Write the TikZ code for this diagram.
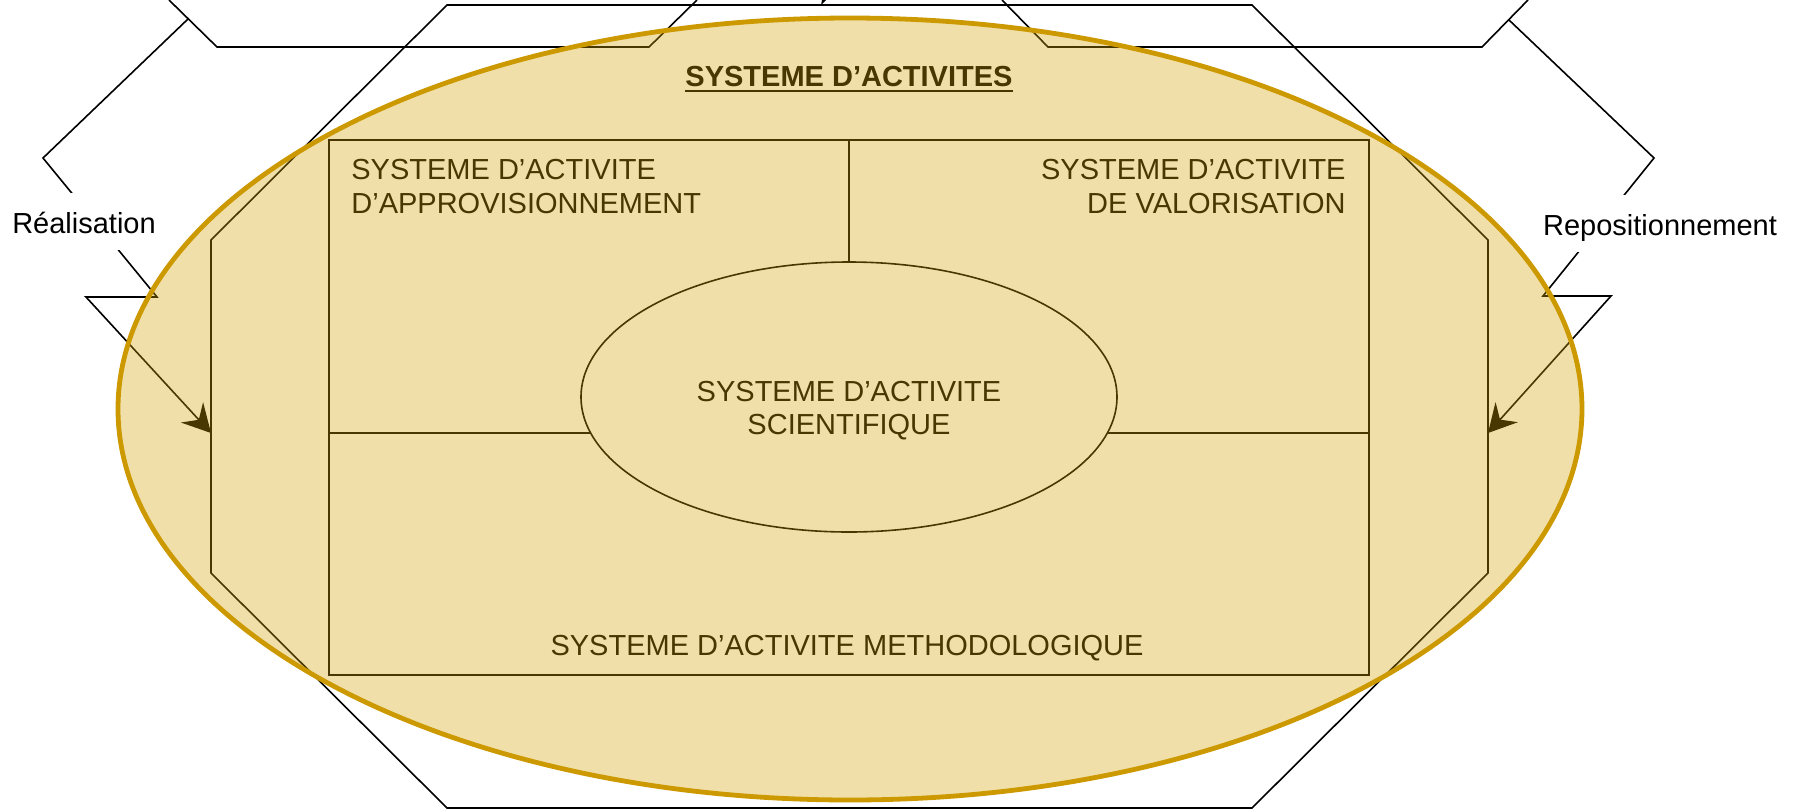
\documentclass[tikz,border=0pt]{standalone}
\usepackage{fontspec}
\setmainfont{Liberation Sans}
\usetikzlibrary{shapes.geometric,arrows.meta}
\definecolor{goldline}{RGB}{204,153,0}
\definecolor{goldfill}{RGB}{212,162,0}
\begin{document}
\begin{tikzpicture}[x=0.5pt,y=-0.5pt,
  thinline/.style={draw=black,line width=0.8pt},
  boxline/.style={draw=black,line width=1pt},
  txt/.style={font=\fontsize{14.5}{17}\selectfont,inner sep=0pt},
  lbl/.style={txt,fill=white,text height=20pt,text depth=8.5pt,inner xsep=2pt},
  conn/.style={thinline,line join=miter,-{Stealth[length=14pt,width=15pt,inset=5pt]}}
]
\useasboundingbox (0,0) rectangle (1796,810);
\fill[white] (0,0) rectangle (1796,810);
\begin{scope}
\clip (0,0) rectangle (1796,810);
% shapes cut by the top edge
\draw[thinline] (169,0) -- (217,47) -- (649,47) -- (697,0);
\draw[thinline] (1002,0) -- (1048,47) -- (1482,47) -- (1528,0);
% octagon
\draw[thinline] (447,5) -- (1252,5) -- (1488,240) -- (1488,573) -- (1252,808) -- (447,808) -- (211,573) -- (211,240) -- cycle;
\fill (821,5) -- (822,0) -- (826,0) -- cycle;
\end{scope}
% connectors
\coordinate (rs) at (188,19);
\coordinate (r1) at (43,158);
\coordinate (r2) at (157,297);
\coordinate (r3) at (86,297);
\coordinate (octL) at (211,433);
\coordinate (ps) at (1509,20);
\coordinate (p1) at (1654,158);
\coordinate (p2) at (1543,296);
\coordinate (p3) at (1611,296);
\coordinate (octR) at (1488,433);
\draw[conn] (rs) -- (r1) -- (r2) -- (r3) -- (octL);
\draw[conn] (ps) -- (p1) -- (p2) -- (p3) -- (octR);
\node[lbl,anchor=base] (real) at (84,233) {Réalisation};
\node[lbl,anchor=base] (repo) at (1660,235) {Repositionnement};
% inner rectangle
\node[boxline,draw,minimum width=520pt,minimum height=267.5pt,inner sep=0pt] (rect) at (849,407.5) {};
\coordinate (divL) at (329,433);
\coordinate (divR) at (1369,433);
\draw[boxline] (divL) -- (divR);
\node[ellipse,thinline,draw,fill=white,minimum width=268pt,minimum height=135pt,inner sep=0pt] (sci) at (849,397) {};
\draw[boxline] (rect.north) -- (sci.north);
% texts
\node[txt,anchor=base west] (apA) at (351,179) {SYSTEME D’ACTIVITE};
\node[txt,anchor=base west] (apB) at (351,213) {D’APPROVISIONNEMENT};
\node[txt,anchor=base east] (vaA) at (1346,179) {SYSTEME D’ACTIVITE};
\node[txt,anchor=base east] (vaB) at (1346,213) {DE VALORISATION};
\node[txt,anchor=base] (scA) at (849,401) {SYSTEME D’ACTIVITE};
\node[txt,anchor=base] (scB) at (849,434) {SCIENTIFIQUE};
\node[txt,anchor=base] (meth) at (847,655) {SYSTEME D’ACTIVITE METHODOLOGIQUE};
\node[txt,font=\bfseries\fontsize{14.5}{17}\selectfont,anchor=base] (title) at (849,86) {SYSTEME D’ACTIVITES};
\draw[line width=1pt] ([yshift=-2.5pt]title.base west) -- ([yshift=-2.5pt]title.base east);
% big translucent ellipse
\draw[goldline,line width=2.4pt,fill=goldfill,fill opacity=0.34] (850,409) ellipse [x radius=366pt, y radius=195.5pt];
\end{tikzpicture}
\end{document}
